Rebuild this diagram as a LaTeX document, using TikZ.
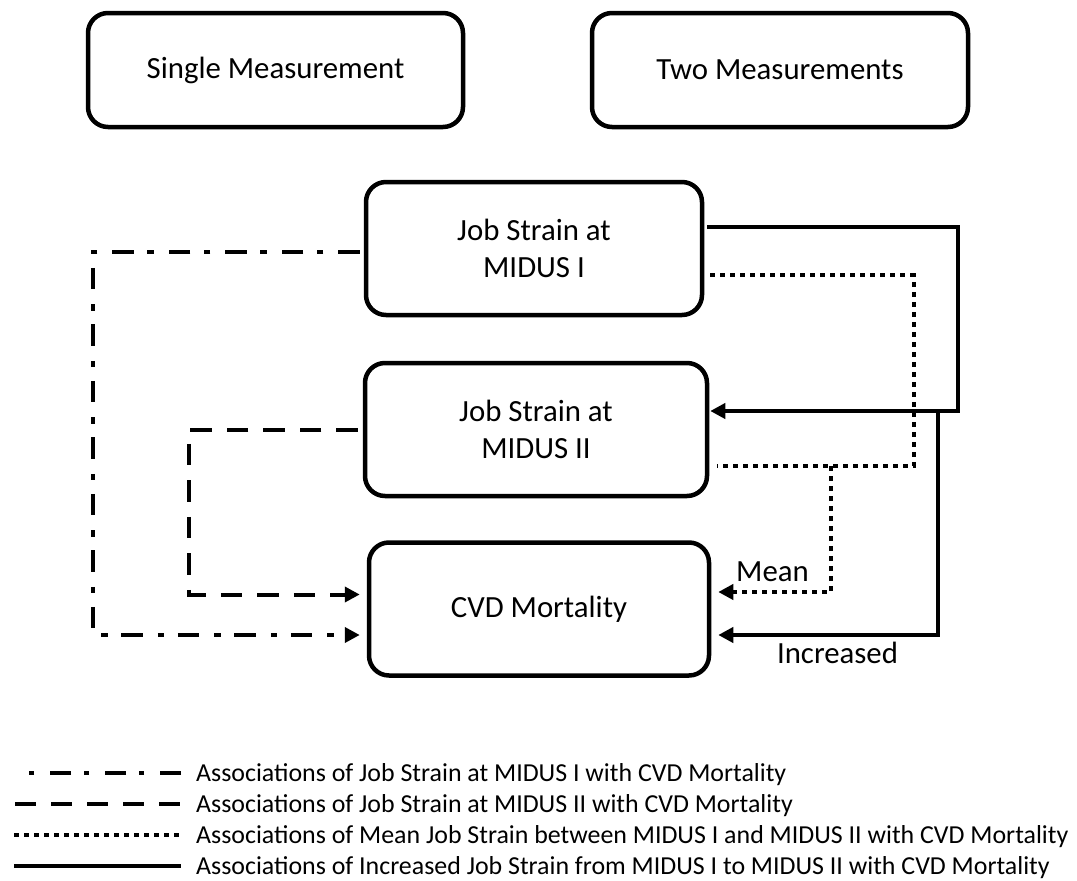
\documentclass[tikz,border=0pt]{standalone}
\usepackage{fontspec}
\setmainfont{Carlito}
\usetikzlibrary{arrows.meta}
\begin{document}
\begin{tikzpicture}[x=1pt,y=-1pt,
  box/.style={draw, line width=4.5pt, rounded corners=20pt, align=center,
    font=\fontsize{30.8}{36.6}\selectfont, inner sep=0pt},
  conn/.style={line width=4pt, line join=miter},
  solidline/.style={conn},
  dotline/.style={conn, dash pattern=on 5pt off 5pt},
  dashline/.style={conn, dash pattern=on 21.5pt off 15pt},
  dashdotline/.style={conn, dash pattern=on 21.5pt off 15pt on 6.5pt off 13.5pt},
  legdashdot/.style={line width=4.5pt, dash pattern=on 21pt off 16pt on 5pt off 13pt},
  legdash/.style={line width=4.5pt, dash pattern=on 20.5pt off 15.5pt},
  legdot/.style={line width=4.5pt, dash pattern=on 5pt off 5pt},
  legsolid/.style={line width=4.5pt},
  tip/.style={-{Triangle[length=15pt,width=15pt]}},
  lbl/.style={font=\fontsize{30.8}{36.6}\selectfont, anchor=base, inner sep=0pt},
  legtext/.style={font=\fontsize{25.9}{31}\selectfont, anchor=base west, inner sep=0pt}
]
\useasboundingbox (0,0) rectangle (1077,881);

% boxes
\node[box, minimum width=375pt, minimum height=114pt] (sm) at (275.5,70) {Single Measurement};
\node[box, minimum width=376pt, minimum height=114pt] (tm) at (780,70) {Two Measurements};
\node[box, minimum width=336pt, minimum height=133pt] (j1) at (534,248.5) {Job Strain at\\MIDUS I};
\node[box, minimum width=342pt, minimum height=133pt] (j2) at (536,429.5) {Job Strain at\\MIDUS II};
\node[box, minimum width=340pt, minimum height=133pt] (cvd) at (539,609) {CVD Mortality};

% branch points
\coordinate (sbr) at (937.5,411);
\coordinate (dbr) at (831,466);

% solid (increased)
\draw[solidline, tip, shorten <=3pt, shorten >=1pt]
  (j1.east |- 0,227) -- (958,227) -- (958,411) -- (j2.east |- 0,411);
\draw[solidline, tip, shorten >=7pt]
  (sbr) -- (sbr |- 0,635) -- (cvd.east |- 0,635);

% dotted (mean)
\draw[dotline, shorten <=6pt, shorten >=8pt]
  (j1.east |- 0,275) -- (913.5,275) -- (913.5,466) -- (j2.east |- 0,466);
\draw[dotline, tip, shorten >=7pt]
  (dbr) -- (dbr |- 0,592) -- (cvd.east |- 0,592);

% dash-dot (MIDUS I)
\draw[dashdotline, tip, shorten <=4pt, shorten >=7pt]
  (j1.west |- 0,252) -- (93,252) -- (93,635) -- (cvd.west |- 0,635);

% dashed (MIDUS II)
\draw[dashline, tip, shorten <=5pt, shorten >=7pt]
  (j2.west |- 0,430) -- (189,430) -- (189,594.5) -- (cvd.west |- 0,594.5);

% labels
\node[lbl] (mean) at (772.5,581.5) {Mean};
\node[lbl] (inc) at (837.5,663.5) {Increased};

% legend
\coordinate (l1a) at (29,773);  \coordinate (l1b) at (181,773);
\coordinate (l2a) at (15,804);  \coordinate (l2b) at (181,804);
\coordinate (l3a) at (14,835);  \coordinate (l3b) at (181,835);
\coordinate (l4a) at (14,866);  \coordinate (l4b) at (181,866);
\draw[legdashdot] (l1b) -- (l1a);
\draw[legdash] (l2a) -- (l2b);
\draw[legdot] (l3a) -- (l3b);
\draw[legsolid] (l4a) -- (l4b);
\node[legtext] (t1) at (196,781.3) {Associations of Job Strain at MIDUS I with CVD Mortality};
\node[legtext] (t2) at (196,812.3) {Associations of Job Strain at MIDUS II with CVD Mortality};
\node[legtext] (t3) at (196,843.3) {Associations of Mean Job Strain between MIDUS I and MIDUS II with CVD Mortality};
\node[legtext] (t4) at (196,874.3) {Associations of Increased Job Strain from MIDUS I to MIDUS II with CVD Mortality};
\end{tikzpicture}
\end{document}
